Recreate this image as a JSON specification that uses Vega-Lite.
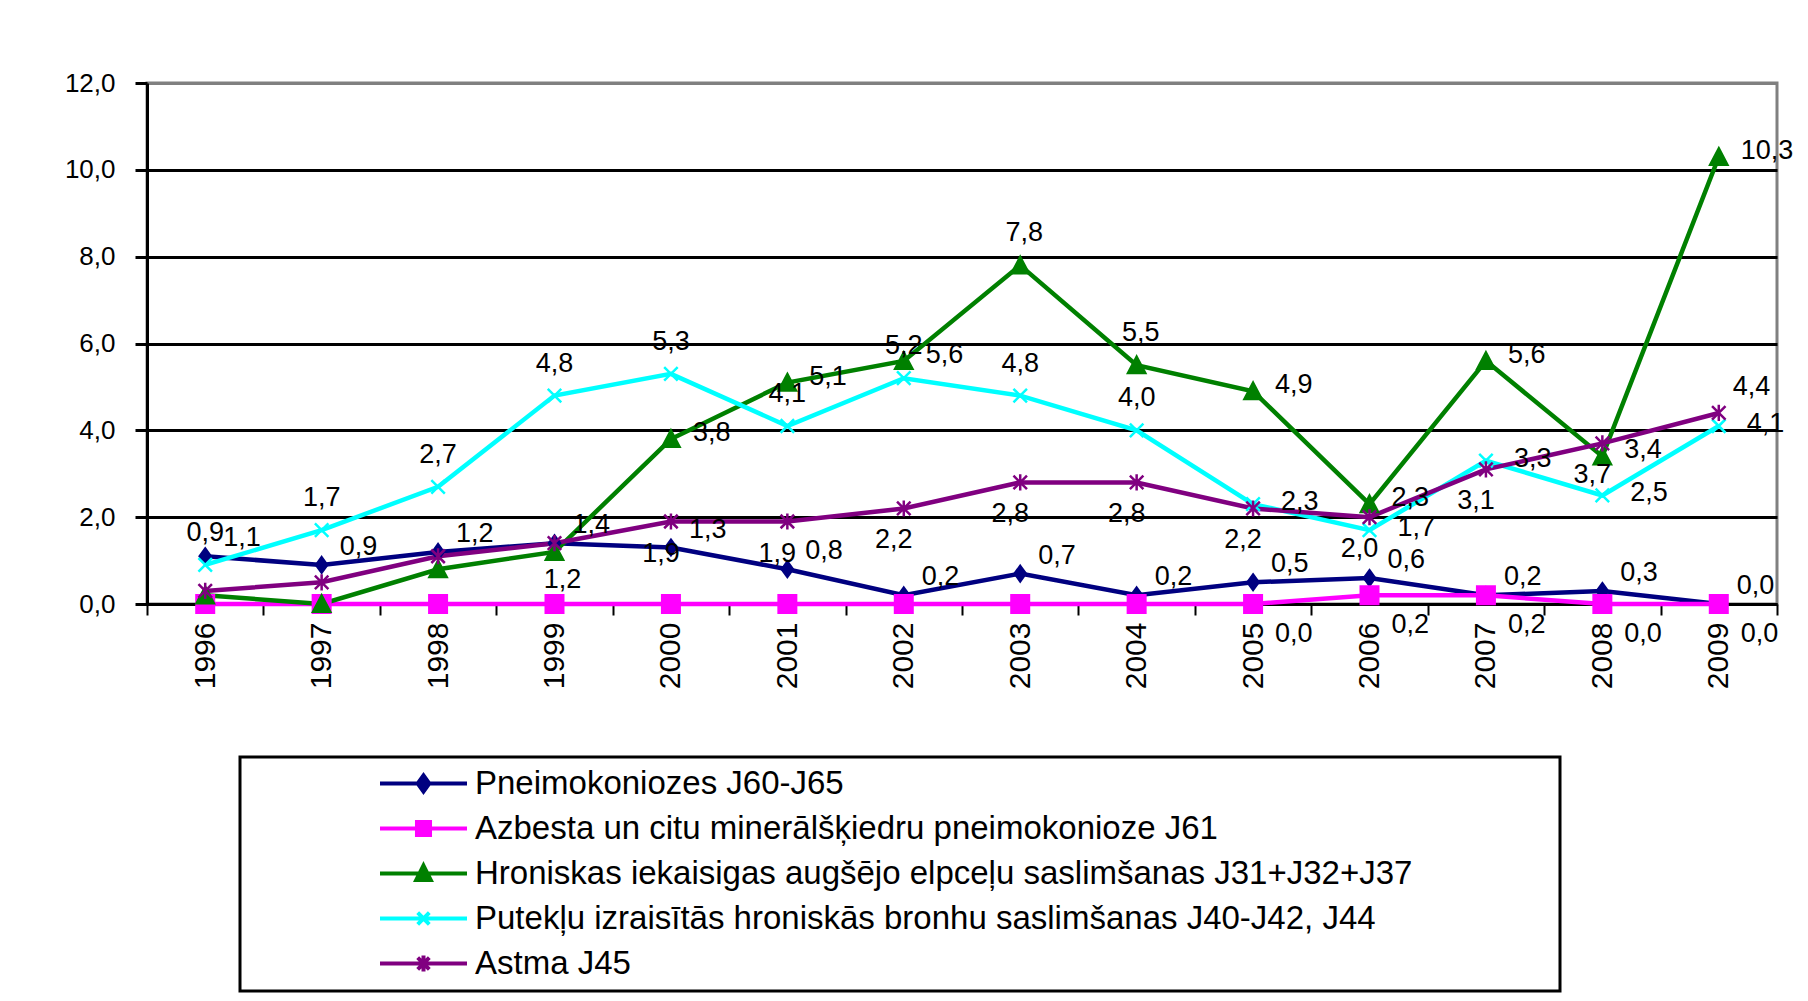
{
  "$schema": "https://vega.github.io/schema/vega-lite/v6.json",
  "width": 1630,
  "height": 521,
  "autosize": {"type": "none"},
  "padding": {"left": 147, "top": 83, "right": 31, "bottom": 397},
  "background": "white",
  "config": {
    "font": "Liberation Sans",
    "locale": {"number": {"decimal": ",", "thousands": " ", "grouping": [3], "currency": ["", ""]}},
    "view": {"stroke": "#808080", "strokeWidth": 3}
  },
  "data": {"values": [
    {"year": 1996, "series": "Pneimokoniozes J60-J65", "value": 1.1},
    {"year": 1997, "series": "Pneimokoniozes J60-J65", "value": 0.9},
    {"year": 1998, "series": "Pneimokoniozes J60-J65", "value": 1.2},
    {"year": 1999, "series": "Pneimokoniozes J60-J65", "value": 1.4},
    {"year": 2000, "series": "Pneimokoniozes J60-J65", "value": 1.3},
    {"year": 2001, "series": "Pneimokoniozes J60-J65", "value": 0.8},
    {"year": 2002, "series": "Pneimokoniozes J60-J65", "value": 0.2},
    {"year": 2003, "series": "Pneimokoniozes J60-J65", "value": 0.7},
    {"year": 2004, "series": "Pneimokoniozes J60-J65", "value": 0.2},
    {"year": 2005, "series": "Pneimokoniozes J60-J65", "value": 0.5},
    {"year": 2006, "series": "Pneimokoniozes J60-J65", "value": 0.6},
    {"year": 2007, "series": "Pneimokoniozes J60-J65", "value": 0.2},
    {"year": 2008, "series": "Pneimokoniozes J60-J65", "value": 0.3},
    {"year": 2009, "series": "Pneimokoniozes J60-J65", "value": 0.0},
    {"year": 1996, "series": "Azbesta un citu minerālšķiedru pneimokonioze J61", "value": 0.0},
    {"year": 1997, "series": "Azbesta un citu minerālšķiedru pneimokonioze J61", "value": 0.0},
    {"year": 1998, "series": "Azbesta un citu minerālšķiedru pneimokonioze J61", "value": 0.0},
    {"year": 1999, "series": "Azbesta un citu minerālšķiedru pneimokonioze J61", "value": 0.0},
    {"year": 2000, "series": "Azbesta un citu minerālšķiedru pneimokonioze J61", "value": 0.0},
    {"year": 2001, "series": "Azbesta un citu minerālšķiedru pneimokonioze J61", "value": 0.0},
    {"year": 2002, "series": "Azbesta un citu minerālšķiedru pneimokonioze J61", "value": 0.0},
    {"year": 2003, "series": "Azbesta un citu minerālšķiedru pneimokonioze J61", "value": 0.0},
    {"year": 2004, "series": "Azbesta un citu minerālšķiedru pneimokonioze J61", "value": 0.0},
    {"year": 2005, "series": "Azbesta un citu minerālšķiedru pneimokonioze J61", "value": 0.0},
    {"year": 2006, "series": "Azbesta un citu minerālšķiedru pneimokonioze J61", "value": 0.2},
    {"year": 2007, "series": "Azbesta un citu minerālšķiedru pneimokonioze J61", "value": 0.2},
    {"year": 2008, "series": "Azbesta un citu minerālšķiedru pneimokonioze J61", "value": 0.0},
    {"year": 2009, "series": "Azbesta un citu minerālšķiedru pneimokonioze J61", "value": 0.0},
    {"year": 1996, "series": "Hroniskas iekaisigas augšējo elpceļu saslimšanas J31+J32+J37", "value": 0.2},
    {"year": 1997, "series": "Hroniskas iekaisigas augšējo elpceļu saslimšanas J31+J32+J37", "value": 0.0},
    {"year": 1998, "series": "Hroniskas iekaisigas augšējo elpceļu saslimšanas J31+J32+J37", "value": 0.8},
    {"year": 1999, "series": "Hroniskas iekaisigas augšējo elpceļu saslimšanas J31+J32+J37", "value": 1.2},
    {"year": 2000, "series": "Hroniskas iekaisigas augšējo elpceļu saslimšanas J31+J32+J37", "value": 3.8},
    {"year": 2001, "series": "Hroniskas iekaisigas augšējo elpceļu saslimšanas J31+J32+J37", "value": 5.1},
    {"year": 2002, "series": "Hroniskas iekaisigas augšējo elpceļu saslimšanas J31+J32+J37", "value": 5.6},
    {"year": 2003, "series": "Hroniskas iekaisigas augšējo elpceļu saslimšanas J31+J32+J37", "value": 7.8},
    {"year": 2004, "series": "Hroniskas iekaisigas augšējo elpceļu saslimšanas J31+J32+J37", "value": 5.5},
    {"year": 2005, "series": "Hroniskas iekaisigas augšējo elpceļu saslimšanas J31+J32+J37", "value": 4.9},
    {"year": 2006, "series": "Hroniskas iekaisigas augšējo elpceļu saslimšanas J31+J32+J37", "value": 2.3},
    {"year": 2007, "series": "Hroniskas iekaisigas augšējo elpceļu saslimšanas J31+J32+J37", "value": 5.6},
    {"year": 2008, "series": "Hroniskas iekaisigas augšējo elpceļu saslimšanas J31+J32+J37", "value": 3.4},
    {"year": 2009, "series": "Hroniskas iekaisigas augšējo elpceļu saslimšanas J31+J32+J37", "value": 10.3},
    {"year": 1996, "series": "Putekļu izraisītās hroniskās bronhu saslimšanas J40-J42, J44", "value": 0.9},
    {"year": 1997, "series": "Putekļu izraisītās hroniskās bronhu saslimšanas J40-J42, J44", "value": 1.7},
    {"year": 1998, "series": "Putekļu izraisītās hroniskās bronhu saslimšanas J40-J42, J44", "value": 2.7},
    {"year": 1999, "series": "Putekļu izraisītās hroniskās bronhu saslimšanas J40-J42, J44", "value": 4.8},
    {"year": 2000, "series": "Putekļu izraisītās hroniskās bronhu saslimšanas J40-J42, J44", "value": 5.3},
    {"year": 2001, "series": "Putekļu izraisītās hroniskās bronhu saslimšanas J40-J42, J44", "value": 4.1},
    {"year": 2002, "series": "Putekļu izraisītās hroniskās bronhu saslimšanas J40-J42, J44", "value": 5.2},
    {"year": 2003, "series": "Putekļu izraisītās hroniskās bronhu saslimšanas J40-J42, J44", "value": 4.8},
    {"year": 2004, "series": "Putekļu izraisītās hroniskās bronhu saslimšanas J40-J42, J44", "value": 4.0},
    {"year": 2005, "series": "Putekļu izraisītās hroniskās bronhu saslimšanas J40-J42, J44", "value": 2.3},
    {"year": 2006, "series": "Putekļu izraisītās hroniskās bronhu saslimšanas J40-J42, J44", "value": 1.7},
    {"year": 2007, "series": "Putekļu izraisītās hroniskās bronhu saslimšanas J40-J42, J44", "value": 3.3},
    {"year": 2008, "series": "Putekļu izraisītās hroniskās bronhu saslimšanas J40-J42, J44", "value": 2.5},
    {"year": 2009, "series": "Putekļu izraisītās hroniskās bronhu saslimšanas J40-J42, J44", "value": 4.1},
    {"year": 1996, "series": "Astma J45", "value": 0.3},
    {"year": 1997, "series": "Astma J45", "value": 0.5},
    {"year": 1998, "series": "Astma J45", "value": 1.1},
    {"year": 1999, "series": "Astma J45", "value": 1.4},
    {"year": 2000, "series": "Astma J45", "value": 1.9},
    {"year": 2001, "series": "Astma J45", "value": 1.9},
    {"year": 2002, "series": "Astma J45", "value": 2.2},
    {"year": 2003, "series": "Astma J45", "value": 2.8},
    {"year": 2004, "series": "Astma J45", "value": 2.8},
    {"year": 2005, "series": "Astma J45", "value": 2.2},
    {"year": 2006, "series": "Astma J45", "value": 2.0},
    {"year": 2007, "series": "Astma J45", "value": 3.1},
    {"year": 2008, "series": "Astma J45", "value": 3.7},
    {"year": 2009, "series": "Astma J45", "value": 4.4}
  ]},
  "encoding": {
    "x": {
      "field": "year", "type": "ordinal", "bandPosition": 0.5,
      "scale": {"type": "band", "paddingInner": 0, "paddingOuter": 0},
      "axis": {
        "title": null, "labelAngle": -90, "tickBand": "extent", "grid": false,
        "domainColor": "black", "domainWidth": 3, "tickColor": "black", "tickWidth": 2, "tickSize": 11,
        "labelFont": "Liberation Sans", "labelFontSize": 30, "labelColor": "black", "labelPadding": 7
      }
    },
    "y": {
      "field": "value", "type": "quantitative",
      "scale": {"domain": [0, 12], "nice": false},
      "axis": {
        "title": null, "values": [0, 2, 4, 6, 8, 10, 12], "format": ".1f", "grid": true,
        "gridColor": {"condition": {"test": "datum.value == 12", "value": "#808080"}, "value": "black"},
        "gridWidth": 3, "domainColor": "black", "domainWidth": 3, "tickColor": "black", "tickWidth": 3, "tickSize": 12,
        "labelFont": "Liberation Sans", "labelFontSize": 26, "labelColor": "black", "labelPadding": 20
      }
    }
  },
  "layer": [
    {
      "mark": {"type": "line", "strokeWidth": 4.5},
      "encoding": {
        "color": {
          "field": "series", "type": "nominal",
          "scale": {
            "domain": ["Pneimokoniozes J60-J65", "Azbesta un citu minerālšķiedru pneimokonioze J61", "Hroniskas iekaisigas augšējo elpceļu saslimšanas J31+J32+J37", "Putekļu izraisītās hroniskās bronhu saslimšanas J40-J42, J44", "Astma J45"],
            "range": ["#000080", "#FF00FF", "#008000", "#00FFFF", "#800080"]
          },
          "legend": {
            "orient": "none", "legendX": 93, "legendY": 674, "direction": "vertical", "title": null,
            "padding": 10, "rowPadding": 11, "symbolOffset": 157, "labelOffset": 35,
            "symbolSize": 841, "symbolStrokeWidth": 4,
            "strokeColor": "black", "fillColor": "white",
            "labelFont": "Liberation Sans", "labelFontSize": 33, "labelColor": "black", "labelLimit": 3000,
            "labelExpr": "datum.label + '\u00a0\u00a0\u00a0\u00a0\u00a0\u00a0\u00a0\u00a0\u00a0\u00a0\u00a0\u00a0\u00a0\u00a0\u00a0\u200b'",
            "encode": {
              "symbols": {"update": {
                "shape": {"signal": "datum.value === 'Pneimokoniozes J60-J65' ? 'M-3,0H3M0,-0.55L0.4,0L0,0.55L-0.4,0Z' : datum.value === 'Azbesta un citu minerālšķiedru pneimokonioze J61' ? 'M-3,0H3M-0.45,-0.45H0.45V0.45H-0.45Z' : datum.value === 'Astma J45' ? 'M-3,0H3M-0.4,-0.4L0.4,0.4M0.4,-0.4L-0.4,0.4M0,-0.55V0.55' : datum.value === 'Hroniskas iekaisigas augšējo elpceļu saslimšanas J31+J32+J37' ? 'M-3,0H3M0,-0.55L0.5,0.45H-0.5Z' : 'M-3,0H3M-0.4,-0.4L0.4,0.4M0.4,-0.4L-0.4,0.4'"},
                "fill": {"scale": "color", "field": "value"},
                "stroke": {"scale": "color", "field": "value"},
                "strokeWidth": {"value": 4},
                "size": {"value": 841},
                "opacity": {"value": 1}
              }},
              "legend": {"update": {"strokeWidth": {"value": 3}}}
            }
          }
        }
      }
    },
    {
      "transform": [{"filter": "datum.series === 'Pneimokoniozes J60-J65'"}],
      "mark": {"type": "point", "shape": "M0,-0.9L0.65,0L0,0.9L-0.65,0Z", "size": 324, "fill": "#000080", "stroke": "#000080", "strokeWidth": 2, "opacity": 1}
    },
    {
      "transform": [{"filter": "datum.series === 'Azbesta un citu minerālšķiedru pneimokonioze J61'"}],
      "mark": {"type": "point", "shape": "M-1,-1H1V1H-1Z", "size": 324, "fill": "#FF00FF", "stroke": "#FF00FF", "strokeWidth": 2, "opacity": 1}
    },
    {
      "transform": [{"filter": "datum.series === 'Hroniskas iekaisigas augšējo elpceļu saslimšanas J31+J32+J37'"}],
      "mark": {"type": "point", "shape": "M0,-1L1,0.9H-1Z", "size": 324, "fill": "#008000", "stroke": "#008000", "strokeWidth": 2, "opacity": 1}
    },
    {
      "transform": [{"filter": "datum.series === 'Putekļu izraisītās hroniskās bronhu saslimšanas J40-J42, J44'"}],
      "mark": {"type": "point", "shape": "M-0.75,-0.75L0.75,0.75M0.75,-0.75L-0.75,0.75", "size": 324, "fill": "#00FFFF", "stroke": "#00FFFF", "strokeWidth": 2.5, "opacity": 1}
    },
    {
      "transform": [{"filter": "datum.series === 'Astma J45'"}],
      "mark": {"type": "point", "shape": "M-0.75,-0.75L0.75,0.75M0.75,-0.75L-0.75,0.75M0,-0.9V0.9", "size": 324, "fill": "#800080", "stroke": "#800080", "strokeWidth": 2.5, "opacity": 1}
    },
    {
      "transform": [{"filter": "datum.series === 'Pneimokoniozes J60-J65'"}],
      "mark": {"type": "text", "align": "left", "baseline": "middle", "dx": 18, "dy": -18, "font": "Liberation Sans", "fontSize": 27, "color": "black"},
      "encoding": {"text": {"field": "value", "type": "quantitative", "format": ".1f"}}
    },
    {
      "transform": [{"filter": "datum.series === 'Azbesta un citu minerālšķiedru pneimokonioze J61' && datum.year >= 2005"}],
      "mark": {"type": "text", "align": "left", "baseline": "middle", "dx": 22, "dy": 30, "font": "Liberation Sans", "fontSize": 27, "color": "black"},
      "encoding": {"text": {"field": "value", "type": "quantitative", "format": ".1f"}}
    },
    {
      "transform": [{"filter": "datum.series === 'Hroniskas iekaisigas augšējo elpceļu saslimšanas J31+J32+J37' && datum.year == 1999"}],
      "mark": {"type": "text", "align": "center", "baseline": "middle", "dx": 8, "dy": 28, "font": "Liberation Sans", "fontSize": 27, "color": "black"},
      "encoding": {"text": {"field": "value", "type": "quantitative", "format": ".1f"}}
    },
    {
      "transform": [{"filter": "datum.series === 'Hroniskas iekaisigas augšējo elpceļu saslimšanas J31+J32+J37' && datum.year >= 2003 && datum.year <= 2004"}],
      "mark": {"type": "text", "align": "center", "baseline": "middle", "dx": 4, "dy": -32, "font": "Liberation Sans", "fontSize": 27, "color": "black"},
      "encoding": {"text": {"field": "value", "type": "quantitative", "format": ".1f"}}
    },
    {
      "transform": [{"filter": "datum.series === 'Hroniskas iekaisigas augšējo elpceļu saslimšanas J31+J32+J37' && ((datum.year >= 2000 && datum.year <= 2002) || datum.year >= 2005)"}],
      "mark": {"type": "text", "align": "left", "baseline": "middle", "dx": 22, "dy": -6, "font": "Liberation Sans", "fontSize": 27, "color": "black"},
      "encoding": {"text": {"field": "value", "type": "quantitative", "format": ".1f"}}
    },
    {
      "transform": [{"filter": "datum.series === 'Putekļu izraisītās hroniskās bronhu saslimšanas J40-J42, J44' && datum.year < 2005"}],
      "mark": {"type": "text", "align": "center", "baseline": "middle", "dx": 0, "dy": -32, "font": "Liberation Sans", "fontSize": 27, "color": "black"},
      "encoding": {"text": {"field": "value", "type": "quantitative", "format": ".1f"}}
    },
    {
      "transform": [{"filter": "datum.series === 'Putekļu izraisītās hroniskās bronhu saslimšanas J40-J42, J44' && datum.year >= 2005"}],
      "mark": {"type": "text", "align": "left", "baseline": "middle", "dx": 28, "dy": -2, "font": "Liberation Sans", "fontSize": 27, "color": "black"},
      "encoding": {"text": {"field": "value", "type": "quantitative", "format": ".1f"}}
    },
    {
      "transform": [{"filter": "datum.series === 'Astma J45' && datum.year >= 2000 && datum.year < 2009"}],
      "mark": {"type": "text", "align": "center", "baseline": "middle", "dx": -10, "dy": 32, "font": "Liberation Sans", "fontSize": 27, "color": "black"},
      "encoding": {"text": {"field": "value", "type": "quantitative", "format": ".1f"}}
    },
    {
      "transform": [{"filter": "datum.series === 'Astma J45' && datum.year == 2009"}],
      "mark": {"type": "text", "align": "left", "baseline": "middle", "dx": 14, "dy": -26, "font": "Liberation Sans", "fontSize": 27, "color": "black"},
      "encoding": {"text": {"field": "value", "type": "quantitative", "format": ".1f"}}
    }
  ]
}
